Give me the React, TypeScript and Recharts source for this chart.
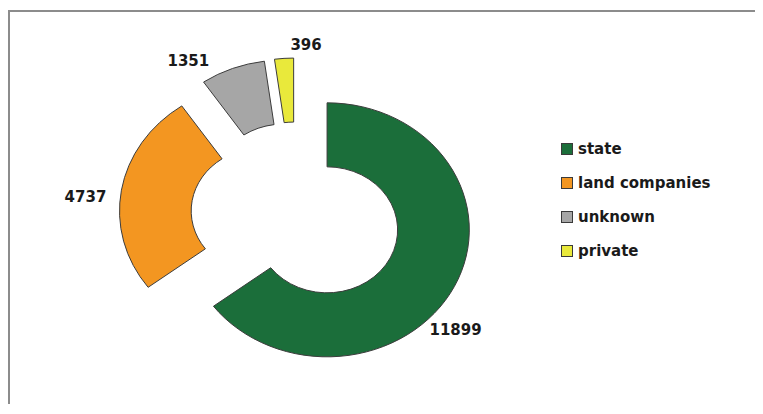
import { PieChart, Pie, Cell, Legend, Sector } from "recharts";

const categories = ["state", "land companies", "unknown", "private"];
const holdings = [11899, 4737, 1351, 396];
const sliceColors = ["#1b6e3a", "#f39621", "#a6a6a6", "#e9e93b"];

// where the value labels sit: clockwise degrees from 12 o'clock + radius, around each slice's exploded centre
const labelSpots = [
  { angle: 131, radius: 152 },
  { angle: 275, radius: 158 },
  { angle: 326, radius: 152 },
  { angle: 4.5, radius: 141 },
];

const data = categories.map((name, i) => ({ name, value: holdings[i] }));

const EXPLODE = 31;
const STRETCH_X = 1.12; // the source picture is squeezed wider than tall
const RAD = Math.PI / 180;
const FONT = "'DejaVu Sans', sans-serif";

function ExplodedSector(props: any) {
  const { cx, cy, midAngle, ...rest } = props;
  const ox = EXPLODE * Math.cos(-midAngle * RAD);
  const oy = EXPLODE * Math.sin(-midAngle * RAD);
  return (
    <g transform={`translate(${cx} 0) scale(${STRETCH_X} 1) translate(${-cx} 0)`}>
      <Sector {...rest} cx={cx + ox} cy={cy + oy} vectorEffect="non-scaling-stroke" />
    </g>
  );
}

function ValueLabel(props: any) {
  const { cx, cy, midAngle, index, value } = props;
  const ex = cx + EXPLODE * Math.cos(-midAngle * RAD);
  const ey = cy + EXPLODE * Math.sin(-midAngle * RAD);
  const spot = labelSpots[index];
  const lx = ex + spot.radius * Math.sin(spot.angle * RAD);
  const ly = ey - spot.radius * Math.cos(spot.angle * RAD);
  return (
    <text
      x={cx + (lx - cx) * STRETCH_X}
      y={ly}
      textAnchor="middle"
      dominantBaseline="central"
      fill="#1a1a1a"
      style={{ fontFamily: FONT, fontWeight: 700, fontSize: 15 }}
    >
      {value}
    </text>
  );
}

function LegendList() {
  return (
    <div style={{ fontFamily: FONT, fontWeight: 700, fontSize: 15, color: "#1a1a1a" }}>
      {categories.map((c, i) => (
        <div key={c} style={{ display: "flex", alignItems: "center", height: 34 }}>
          <span
            style={{
              width: 10,
              height: 10,
              background: sliceColors[i],
              border: "1px solid #3a3a3a",
              marginRight: 5,
            }}
          />
          <span>{c}</span>
        </div>
      ))}
    </div>
  );
}

export default function App() {
  return (
    <div
      style={{
        position: "relative",
        top: 2,
        width: 745,
        height: 394,
        borderLeft: "2px solid #8c8c8c",
        borderTop: "2px solid #8c8c8c",
        background: "#fff",
      }}
    >
      <PieChart width={745} height={394} margin={{ top: 0, right: 0, bottom: 0, left: 0 }}>
        <Pie
          data={data}
          dataKey="value"
          nameKey="name"
          cx={286}
          cy={204}
          innerRadius={63}
          outerRadius={127}
          startAngle={90}
          endAngle={-270}
          stroke="#3c3c3c"
          strokeWidth={1}
          shape={ExplodedSector}
          label={ValueLabel}
          labelLine={false}
          isAnimationActive={false}
        >
          {data.map((d, i) => (
            <Cell key={d.name} fill={sliceColors[i]} />
          ))}
        </Pie>
        <Legend
          layout="vertical"
          verticalAlign="top"
          align="right"
          wrapperStyle={{ left: 551, top: 120, width: 190, right: "auto" }}
          content={LegendList}
        />
      </PieChart>
    </div>
  );
}
